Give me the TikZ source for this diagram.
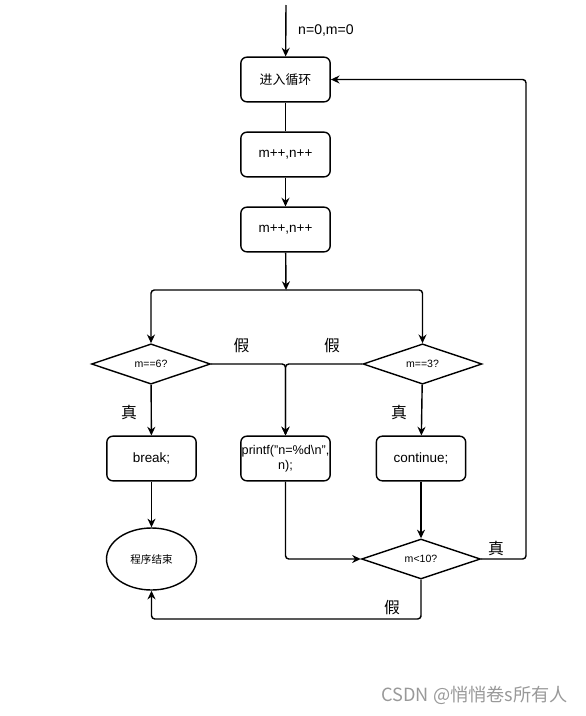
\documentclass[tikz,border=0pt]{standalone}
\usepackage{fontspec}
\setmainfont{Liberation Sans}
\newfontfamily\cjk{Noto Sans CJK SC}
\usetikzlibrary{arrows.meta,shapes.geometric}

\tikzset{
  procbox/.style={draw, line width=1.2pt, rounded corners=1.8mm, inner sep=0.5mm,
    minimum width=26.8mm, minimum height=13.4mm, align=center,
    font=\fontsize{11.5}{13}\selectfont},
  decision/.style={draw, diamond, line width=1.2pt, inner sep=0pt,
    minimum width=35.7mm, minimum height=9mm, font=\fontsize{9}{10}\selectfont},
  terminal/.style={draw, ellipse, line width=1.2pt, inner sep=0pt,
    minimum width=27mm, minimum height=18.6mm, font=\cjk\fontsize{9}{10}\selectfont},
  flow/.style={line width=1.2pt, rounded corners=1mm, -{Stealth[length=2.6mm,width=2.4mm]}},
  plain/.style={line width=1.2pt},
  tag/.style={font=\cjk\fontsize{13.5}{14}\selectfont, inner sep=0pt},
}

\begin{document}
\begin{tikzpicture}[x=0.3mm, y=-0.3mm]
  \useasboundingbox (0,0) rectangle (585,716);

  % boxes of the loop
  \node [procbox, font=\cjk\fontsize{11}{13}\selectfont](loop) at (285.5,79.5) {进入循环};
  \node [procbox](inc1) at (285.5,154.5) {m++,n++};
  \node [procbox](inc2) at (285.5,229.5) {m++,n++};

  \node [decision](chk6) at (151,364) {m==6?};
  \node [decision](chk3) at (422.5,364) {m==3?};

  \node [procbox](brk) at (151.5,458.5) {break;};
  \node [procbox, inner sep=0pt, font=\fontsize{10.8}{13}\selectfont](prt) at (285.5,458.5) {printf("n=\%d\textbackslash n",\\ n);};
  \node [procbox](cont) at (421,458.5) {continue;};

  \node [terminal](stop) at (151.5,559) {程序结束};
  \node [decision](chk10) at (421,559) {m<10?};

  % helper points
  \coordinate (start) at (286,5);
  \coordinate (split) at (286,290);
  \coordinate (back) at (526,79.5);
  \coordinate (low) at (421,619);

  % connectors
  \draw [flow] (start) -- (loop);
  \draw (start) ++(12,25) node[anchor=west, inner sep=0pt, font=\fontsize{12}{14}\selectfont] (init) {n=0,m=0};
  \draw [plain] (loop) -- (inc1);
  \draw [flow] (inc1) -- (inc2);
  \draw [flow] (inc2) -- (split);
  \draw [flow] (split) -| (chk6);
  \draw [flow] (split) -| (chk3);
  \draw [flow] (chk6) -- (brk);
  \draw [flow] (chk3) -- (cont);
  \draw [flow] (chk6.east) -| (prt);
  \draw [flow] (chk3.west) -| (prt);
  \draw [flow] (brk) -- (stop);
  \draw [flow] (prt) |- (chk10.west);
  \draw [flow] (cont) -- (chk10);
  \draw [flow] (chk10.east) -| (back) -- (loop.east);
  \draw [flow] (chk10.south) |- (low) -| (stop.south);

  % branch labels
  \node [tag](f6) at (241.5,345.5) {假};
  \node [tag](f3) at (332,345.5) {假};
  \node [tag](t6) at (129,412.5) {真};
  \node [tag](t3) at (399,412.5) {真};
  \node [tag](t10) at (496,548.5) {真};
  \node [tag](f10) at (392,607.5) {假};

  \node [anchor=east, inner sep=0pt, text=black!40, font=\cjk\fontsize{15.5}{17}\selectfont](mark) at (568,695) {CSDN @悄悄卷s所有人};
\end{tikzpicture}
\end{document}
